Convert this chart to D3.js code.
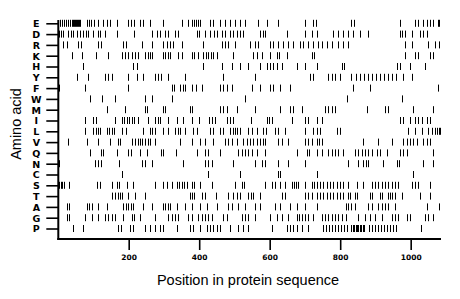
<!DOCTYPE html>
<html>
<head>
<meta charset="utf-8">
<script src="https://cdn.jsdelivr.net/npm/d3@7"></script>
<style>
  html, body { margin: 0; padding: 0; background: #fff; }
  svg { display: block; }
</style>
</head>
<body>
<svg id="chart" width="460" height="299"></svg>
<script>
// Amino acids, top to bottom
const aminoAcids = ["E","D","R","K","H","Y","F","W","M","I","L","V","Q","N","C","S","T","A","G","P"];
const xTicks = [200, 400, 600, 800, 1000];
const seqLength = 1086;

// Positions of each residue type along the sequence
const posE = [5,11,16,22,28,33,39,42,45,48,50,53,56,59,62,81,87,93,102,113,127,138,147,167,198,207,215,232,241,260,297,351,368,380,385,391,397,402,431,439,459,473,487,501,516,530,567,592,624,700,723,731,832,838,970,1012,1021,1035,1046,1055,1063,1077,1080];
const posD = [2,8,14,28,36,42,53,62,70,79,84,99,113,119,133,167,215,266,280,289,303,312,331,340,394,399,416,431,442,450,465,473,487,496,507,516,524,572,581,587,649,700,720,734,780,794,808,822,836,856,879,970,975,984,1004,1026,1035,1046];
const posR = [14,25,56,65,113,121,184,192,238,266,297,309,317,326,351,411,465,473,482,501,544,558,567,601,609,624,638,652,666,686,694,709,723,737,748,763,777,794,808,822,984,1004,1049,1069,1080];
const posK = [39,67,107,141,181,189,198,209,218,226,246,255,260,266,297,303,312,317,340,351,380,385,397,411,419,425,433,439,450,496,553,564,578,601,621,626,649,720,726,984,1012,1021,1055,1063];
const posH = [70,212,224,411,465,493,516,538,572,592,601,609,621,635,677,700,734,805,811,961,970,998,1041];
const posY = [53,84,133,141,153,198,224,241,275,283,292,312,360,467,558,714,723,765,777,785,799,832,845,856,868,879,890,901,913,924,936,947,958,978,1004];
const posF = [2,76,198,323,328,346,354,360,380,391,408,459,467,479,493,550,572,601,609,629,657,836,884,1077];
const posW = [90,124,161,246,266,323,530,819,975];
const posM = [138,189,246,252,297,303,374,380,459,467,479,507,558,629,657,666,692,757,765,777,785,876,927,936,1007,1063];
const posI = [76,99,107,161,181,187,195,201,209,215,226,255,275,283,289,312,337,354,380,399,428,436,445,479,487,496,547,592,598,606,663,700,709,734,748,970,978,998,1012,1021,1032,1046,1055];
const posL = [76,99,107,113,119,138,144,153,158,181,192,241,260,266,275,297,312,331,340,346,360,382,394,431,439,459,467,487,496,501,507,516,538,550,564,581,589,615,624,643,700,723,734,743,791,799,992,1012,1032,1049,1060,1069,1075,1080,1082];
const posV = [28,81,113,147,170,175,209,218,226,232,238,246,255,260,275,346,380,402,416,439,473,482,493,507,524,536,544,553,564,572,581,587,624,635,652,700,709,720,734,740,748,865,907,947,978,990,998,1007,1018,1035,1046,1055];
const posQ = [90,121,127,167,198,207,232,252,292,297,334,394,416,425,459,510,521,530,538,550,564,587,677,706,711,734,748,765,777,785,794,808,842,850,862,870,879,890,904,913,933,970,978,990,1063];
const posN = [2,104,113,121,172,238,246,266,354,416,425,436,496,558,578,587,624,652,700,822,850,865,873,879,922,961,967,1035,1063];
const posC = [181,425,516,624,629,734,1007];
const posS = [2,8,11,16,31,110,119,153,167,172,195,212,275,297,309,323,337,343,351,357,365,380,385,402,436,501,521,527,587,606,615,629,643,663,669,675,680,700,720,726,734,743,751,763,771,780,791,799,808,822,848,865,890,899,907,919,927,936,947,955,964,1004,1012,1021,1055];
const posT = [153,161,170,175,181,198,218,246,374,380,385,408,416,448,482,496,507,516,538,547,553,572,635,643,700,709,720,734,743,751,763,771,780,791,799,808,822,828,842,848,884,890,913,919,936,941,947,955,975,1026,1055];
const posA = [25,31,81,87,96,113,138,184,192,198,207,212,241,266,297,303,312,317,337,360,380,402,422,450,482,493,510,530,558,572,615,629,657,677,700,734,816,822,832,842,879,890,907,919,927,936,955,1046,1080];
const posG = [25,31,76,96,113,133,141,153,161,184,209,215,232,275,312,323,331,340,368,380,397,408,416,425,436,467,479,521,530,538,558,601,621,635,652,677,683,692,700,709,723,748,757,765,777,785,794,805,816,850,870,884,899,919,947,955,964,990,998,1041,1049,1063];
const posP = [42,70,170,178,204,212,246,260,275,289,297,337,374,382,402,422,431,439,450,459,487,510,524,538,606,649,657,666,677,692,709,751,760,768,777,785,794,802,811,819,832,836,839,845,848,850,856,859,865,868,882,890,899,907,916,924,933,941,950,958,1029];

const positionsByAA = {E:posE,D:posD,R:posR,K:posK,H:posH,Y:posY,F:posF,W:posW,M:posM,I:posI,
  L:posL,V:posV,Q:posQ,N:posN,C:posC,S:posS,T:posT,A:posA,G:posG,P:posP};

const svg = d3.select("#chart");
svg.append("rect").attr("width", 460).attr("height", 299).attr("fill", "#fff");

const x = d3.scaleLinear().domain([0, seqLength]).range([58.2, 441]);
const y = d3.scalePoint().domain(aminoAcids).range([23.3, 228.5]);
const axisTop = 20, axisBottomY = 239;

// residue marks
const rows = svg.append("g");
aminoAcids.forEach(aa => {
  rows.selectAll(null).data(positionsByAA[aa]).enter().append("line")
    .attr("x1", d => Math.round(x(d)) + 0.5).attr("x2", d => Math.round(x(d)) + 0.5)
    .attr("y1", y(aa) - 3.5).attr("y2", y(aa) + 3.5)
    .attr("stroke", "#000").attr("stroke-width", 1);
});

// left axis
const gy = svg.append("g").attr("transform", "translate(58.3,0)")
  .call(d3.axisLeft(y).tickSize(12).tickSizeOuter(0));
gy.select(".domain").remove();
gy.selectAll(".tick line").attr("stroke", "#000").attr("stroke-width", 1.6);
gy.selectAll(".tick text")
  .attr("x", -22).attr("text-anchor", "middle").attr("dy", "0.36em")
  .attr("font-family", "DejaVu Sans").attr("font-weight", "bold").attr("font-size", 9.5)
  .attr("fill", "#000");
svg.append("line").attr("x1", 58.3).attr("x2", 58.3).attr("y1", axisTop).attr("y2", axisBottomY + 1)
  .attr("stroke", "#000").attr("stroke-width", 2);

// bottom axis
const gx = svg.append("g").attr("transform", `translate(0,${axisBottomY})`)
  .call(d3.axisBottom(x).tickValues(xTicks).tickSize(11).tickSizeOuter(0).tickFormat(d3.format("d")));
gx.select(".domain").remove();
gx.selectAll(".tick line").attr("stroke", "#000").attr("stroke-width", 1.6);
gx.selectAll(".tick text")
  .attr("y", 21).attr("dy", 0)
  .attr("font-family", "DejaVu Sans").attr("font-weight", "bold").attr("font-size", 7.5)
  .attr("fill", "#000");
svg.append("line").attr("x1", 57.3).attr("x2", x.range()[1]).attr("y1", axisBottomY).attr("y2", axisBottomY)
  .attr("stroke", "#000").attr("stroke-width", 2);

// axis titles
svg.append("text").attr("x", 248).attr("y", 285).attr("text-anchor", "middle")
  .attr("font-family", "Liberation Sans, Arial, sans-serif").attr("font-size", 14.5).attr("fill", "#000")
  .text("Position in protein sequence");
svg.append("text").attr("transform", "translate(21,124) rotate(-90)").attr("text-anchor", "middle")
  .attr("font-family", "Liberation Sans, Arial, sans-serif").attr("font-size", 14.5).attr("fill", "#000")
  .text("Amino acid");
</script>
</body>
</html>
